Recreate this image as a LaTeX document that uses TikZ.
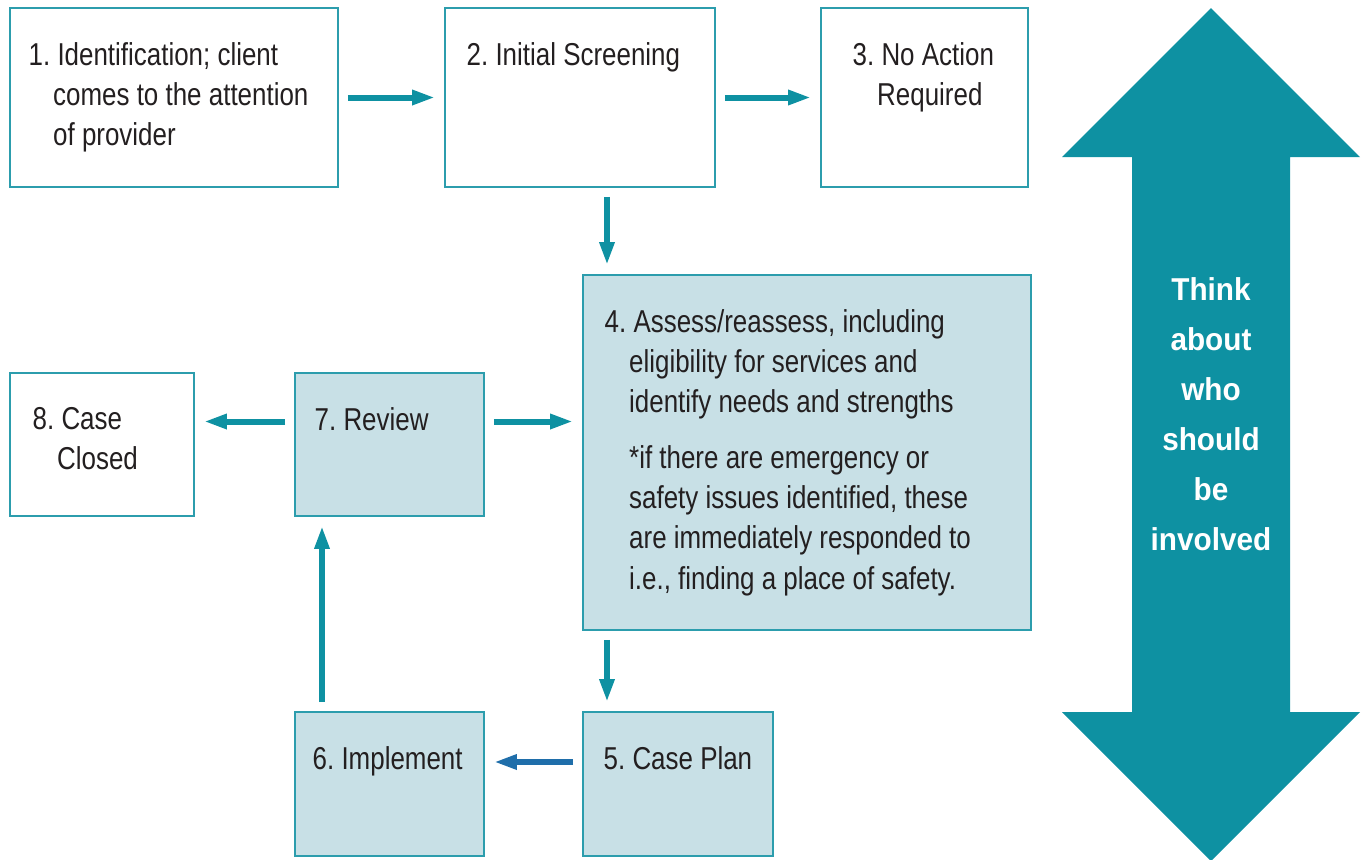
\documentclass[tikz,border=0pt]{standalone}
\usepackage{fontspec}
\setmainfont{Liberation Sans}[FakeStretch=0.82]
\newfontfamily\thinkfont{Liberation Sans}[FakeStretch=0.94]
\usetikzlibrary{arrows.meta,calc}
\definecolor{flowteal}{HTML}{0E91A2}
\definecolor{flowline}{HTML}{2C9DAD}
\definecolor{flowfill}{HTML}{C8E0E6}
\definecolor{flowblue}{HTML}{1F6EAA}
\definecolor{flowtext}{HTML}{231F20}
\newcommand{\ind}{\hspace*{0.245cm}}
\frenchspacing

\begin{document}
\begin{tikzpicture}[
    box/.style={draw=flowline, line width=0.5pt, fill=white, inner sep=0pt},
    shaded/.style={box, fill=flowfill},
    txt/.style={anchor=north west, align=left, inner sep=0pt, text=flowtext, font=\fontsize{9}{11.4}\selectfont},
    arr/.style={-{Triangle[length=0.23cm, width=0.14cm]}, line width=0.06cm, draw=flowteal, shorten >=0.09cm, shorten <=0.09cm},
]
    \useasboundingbox (0,0) rectangle (13.64,8.59);

    % --- top row ---
    \node[box, minimum width=3.28cm, minimum height=1.79cm] (b1) at (1.74,7.615) {};
    \node[box, minimum width=2.70cm, minimum height=1.79cm] (b2) at (5.80,7.615) {};
    \node[box, minimum width=2.07cm, minimum height=1.79cm] (b3) at (9.245,7.615) {};
    \node[txt] (t1) at (0.28,8.17) {1. Identification; client\\\ind comes to the attention\\\ind of provider};
    \node[txt] (t2) at (4.66,8.17) {2. Initial Screening};
    \node[txt] (t3) at (8.52,8.17) {3. No Action\\\ind Required};
    \draw[arr] (b1) -- (b2);
    \draw[arr] (b2) -- (b3);

    % --- assessment and review ---
    \node[shaded, minimum width=4.48cm, minimum height=3.55cm] (b4) at (8.07,4.065) {};
    \node[shaded, minimum width=1.89cm, minimum height=1.43cm] (b7) at (3.895,4.145) {};
    \node[box, minimum width=1.84cm, minimum height=1.43cm] (b8) at (1.02,4.145) {};
    \node[txt] (t4) at (6.04,5.50) {4. Assess/reassess, including\\\ind eligibility for services and\\\ind identify needs and strengths\\[0.16cm]
        \ind *if there are emergency or\\\ind safety issues identified, these\\\ind are immediately responded to\\\ind i.e., finding a place of safety.};
    \node[txt] (t7) at (3.14,4.52) {7. Review};
    \node[txt] (t8) at (0.32,4.52) {8. Case\\\ind Closed};
    \draw[arr] ([xshift=0.27cm]b2.south) -- ([xshift=0.27cm]b2.south |- b4.north);
    \draw[arr] ([yshift=0.23cm]b7.west) -- ([yshift=0.23cm]b8.east);
    \draw[arr] ([yshift=0.23cm]b7.east) -- ([yshift=0.23cm]b7.east -| b4.west);

    % --- plan and implement ---
    \node[shaded, minimum width=1.90cm, minimum height=1.44cm] (b5) at (6.78,0.75) {};
    \node[shaded, minimum width=1.89cm, minimum height=1.44cm] (b6) at (3.895,0.75) {};
    \node[txt] (t5) at (6.03,1.13) {5. Case Plan};
    \node[txt] (t6) at (3.12,1.13) {6. Implement};
    \draw[arr] ([xshift=-0.71cm]b5.north |- b4.south) -- ([xshift=-0.71cm]b5.north);
    \draw[arr, draw=flowblue] ([yshift=0.22cm]b5.west) -- ([yshift=0.22cm]b6.east);
    \draw[arr] ([xshift=-0.675cm]b6.north) -- ([xshift=-0.675cm]b7.south);

    % --- double arrow on the right ---
    \fill[flowteal] (12.11,8.51) -- (13.60,7.02) -- (12.90,7.02) -- (12.90,1.47) -- (13.60,1.47) -- (12.11,-0.02)
        -- (10.62,1.47) -- (11.32,1.47) -- (11.32,7.02) -- (10.62,7.02) -- cycle;
    \node[anchor=north, align=center, inner sep=0pt, text=white, font=\thinkfont\bfseries\fontsize{9}{14.2}\selectfont] (think) at (12.11,5.82)
        {Think\\about\\who\\should\\be\\involved};
\end{tikzpicture}
\end{document}
